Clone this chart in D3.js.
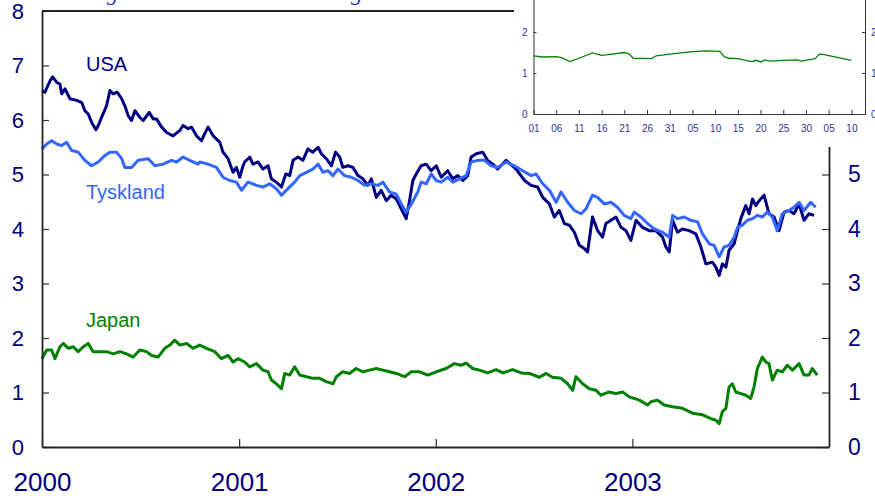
<!DOCTYPE html>
<html><head><meta charset="utf-8">
<script src="https://cdn.jsdelivr.net/npm/d3@7"></script>
<style>html,body{margin:0;padding:0;background:#fff;}svg{display:block;font-family:Arial,"Liberation Sans",sans-serif;}</style>
</head><body>
<svg id="c" width="875" height="496"></svg>
<script>
// ---- data (time = years since 1 Jan 2000) ----
const usaYr=[0.000,0.015,0.041,0.054,0.075,0.091,0.100,0.117,0.142,0.176,0.202,0.218,0.235,0.252,0.274,0.286,0.303,0.328,0.345,0.362,0.382,0.405,0.421,0.438,0.455,0.472,0.497,0.514,0.545,0.565,0.582,0.608,0.633,0.666,0.701,0.717,0.743,0.760,0.785,0.811,0.827,0.844,0.870,0.904,0.920,0.946,0.971,0.988,1.005,1.022,1.030,1.056,1.072,1.098,1.123,1.149,1.166,1.191,1.217,1.239,1.259,1.276,1.301,1.326,1.352,1.377,1.403,1.420,1.445,1.471,1.492,1.513,1.529,1.555,1.580,1.606,1.631,1.656,1.674,1.699,1.724,1.750,1.775,1.801,1.826,1.851,1.868,1.885,1.902,1.927,1.953,1.978,2.004,2.029,2.062,2.088,2.113,2.139,2.164,2.181,2.207,2.240,2.265,2.291,2.316,2.359,2.410,2.452,2.486,2.519,2.545,2.579,2.604,2.629,2.655,2.680,2.706,2.731,2.756,2.773,2.798,2.824,2.849,2.866,2.892,2.917,2.943,2.968,2.993,3.019,3.052,3.086,3.120,3.154,3.171,3.188,3.205,3.230,3.255,3.289,3.323,3.349,3.374,3.408,3.425,3.442,3.458,3.476,3.492,3.518,3.535,3.552,3.577,3.594,3.611,3.628,3.645,3.670,3.695,3.721,3.746,3.772,3.797,3.822,3.848,3.873,3.898,3.924];
const usaVal=[6.54,6.51,6.72,6.79,6.69,6.66,6.48,6.57,6.39,6.36,6.32,6.17,6.11,5.96,5.82,5.90,6.05,6.26,6.54,6.48,6.51,6.39,6.26,6.08,5.99,6.17,6.05,5.99,6.14,6.02,6.02,5.87,5.77,5.71,5.81,5.90,5.84,5.87,5.71,5.62,5.75,5.87,5.71,5.59,5.41,5.29,5.04,5.13,4.95,5.16,5.23,5.32,5.19,5.23,5.10,5.16,4.92,4.86,4.77,5.01,4.98,5.26,5.32,5.26,5.47,5.41,5.50,5.38,5.29,5.16,5.41,5.32,5.13,5.16,5.13,4.98,4.92,4.80,4.92,4.58,4.71,4.52,4.62,4.55,4.37,4.19,4.52,4.89,5.01,5.16,5.19,5.07,5.16,4.95,5.07,4.92,4.98,4.89,4.98,5.32,5.38,5.41,5.26,5.19,5.10,5.26,5.10,4.89,4.80,4.77,4.58,4.46,4.22,4.34,4.10,4.07,3.94,3.70,3.64,3.58,4.22,3.97,3.85,4.10,4.16,4.22,4.03,3.97,3.79,4.16,4.03,3.97,3.97,3.85,3.67,3.58,4.16,3.94,4.00,3.97,3.91,3.67,3.36,3.39,3.30,3.15,3.36,3.30,3.61,3.73,3.97,4.19,4.43,4.28,4.55,4.43,4.52,4.62,4.28,4.22,3.97,4.31,4.34,4.28,4.46,4.16,4.28,4.25];

const deYr=[0.000,0.024,0.049,0.075,0.100,0.125,0.151,0.184,0.218,0.252,0.286,0.320,0.345,0.379,0.405,0.421,0.455,0.489,0.540,0.574,0.616,0.658,0.684,0.717,0.751,0.793,0.802,0.844,0.887,0.920,0.954,0.988,1.014,1.047,1.090,1.123,1.157,1.191,1.217,1.250,1.284,1.310,1.344,1.377,1.403,1.428,1.453,1.479,1.504,1.538,1.572,1.606,1.640,1.674,1.707,1.732,1.766,1.801,1.826,1.851,1.877,1.910,1.927,1.953,1.978,2.004,2.029,2.062,2.088,2.122,2.156,2.181,2.214,2.249,2.283,2.316,2.359,2.401,2.443,2.486,2.511,2.545,2.579,2.613,2.638,2.672,2.706,2.740,2.765,2.798,2.824,2.858,2.892,2.925,2.959,2.993,3.010,3.044,3.078,3.112,3.154,3.188,3.205,3.230,3.264,3.298,3.332,3.357,3.391,3.416,3.442,3.467,3.492,3.518,3.535,3.560,3.585,3.611,3.636,3.661,3.687,3.712,3.737,3.763,3.797,3.822,3.848,3.873,3.907,3.932];
const deVal=[5.47,5.56,5.62,5.56,5.53,5.59,5.44,5.41,5.26,5.16,5.23,5.35,5.41,5.41,5.29,5.13,5.13,5.26,5.29,5.16,5.19,5.26,5.23,5.32,5.26,5.19,5.23,5.19,5.13,4.95,4.89,4.86,4.71,4.86,4.80,4.77,4.83,4.74,4.62,4.74,4.86,4.98,5.04,5.10,5.19,5.04,5.07,4.98,5.10,4.98,4.95,4.89,4.80,4.83,4.80,4.86,4.68,4.64,4.46,4.31,4.46,4.68,4.86,4.83,5.01,4.89,4.86,4.95,4.86,4.92,4.98,5.23,5.26,5.26,5.16,5.13,5.23,5.16,5.07,4.98,5.01,4.83,4.71,4.49,4.68,4.49,4.34,4.28,4.37,4.62,4.58,4.46,4.49,4.40,4.25,4.19,4.31,4.22,4.10,4.00,3.94,3.85,4.25,4.19,4.22,4.16,4.13,3.91,3.73,3.70,3.49,3.67,3.70,3.85,4.03,4.07,4.16,4.19,4.25,4.22,4.31,4.22,3.97,4.28,4.34,4.40,4.49,4.34,4.49,4.40];

const jpYr=[0.000,0.024,0.049,0.066,0.091,0.108,0.134,0.159,0.184,0.210,0.235,0.260,0.294,0.328,0.362,0.396,0.430,0.463,0.497,0.531,0.557,0.590,0.624,0.650,0.675,0.701,0.735,0.768,0.802,0.836,0.878,0.912,0.946,0.971,0.996,1.030,1.056,1.090,1.123,1.149,1.166,1.191,1.217,1.234,1.259,1.284,1.310,1.344,1.377,1.411,1.445,1.479,1.496,1.529,1.563,1.597,1.631,1.665,1.699,1.732,1.766,1.801,1.843,1.877,1.919,1.961,2.004,2.054,2.096,2.130,2.156,2.189,2.223,2.265,2.308,2.342,2.392,2.435,2.477,2.528,2.562,2.595,2.638,2.672,2.697,2.714,2.748,2.782,2.816,2.841,2.883,2.917,2.951,2.985,3.036,3.078,3.095,3.128,3.162,3.205,3.255,3.306,3.357,3.400,3.425,3.442,3.458,3.476,3.492,3.509,3.526,3.552,3.577,3.602,3.619,3.636,3.661,3.679,3.695,3.712,3.737,3.763,3.788,3.814,3.848,3.873,3.898,3.915,3.940];
const jpVal=[1.62,1.78,1.78,1.62,1.84,1.90,1.81,1.84,1.75,1.84,1.90,1.75,1.75,1.75,1.71,1.75,1.71,1.65,1.78,1.75,1.68,1.65,1.81,1.87,1.96,1.87,1.90,1.81,1.87,1.81,1.75,1.62,1.68,1.56,1.62,1.56,1.47,1.53,1.41,1.38,1.23,1.16,1.07,1.35,1.32,1.47,1.32,1.29,1.26,1.26,1.20,1.16,1.29,1.38,1.35,1.44,1.38,1.41,1.44,1.41,1.38,1.35,1.29,1.38,1.38,1.32,1.38,1.44,1.53,1.50,1.54,1.44,1.41,1.36,1.42,1.36,1.42,1.36,1.35,1.28,1.35,1.28,1.26,1.16,1.04,1.29,1.16,1.07,1.04,0.95,1.01,0.98,1.01,0.92,0.86,0.77,0.83,0.86,0.77,0.74,0.71,0.62,0.59,0.52,0.49,0.43,0.65,0.71,1.10,1.16,1.01,0.98,0.95,0.89,1.10,1.44,1.65,1.56,1.53,1.23,1.41,1.38,1.50,1.41,1.53,1.32,1.32,1.44,1.32];

const yearTicks=[2000,2001,2002,2003];
const leftTicks=[0,1,2,3,4,5,6,7,8];
const rightTicks=[0,1,2,3,4,5];
const seriesNames=["USA","Tyskland","Japan"];

// inset: Japan, Oct-Dec 2003
const insetDates=["2003-10-01","2003-10-03","2003-10-06","2003-10-07","2003-10-09","2003-10-11","2003-10-14","2003-10-16","2003-10-17","2003-10-21","2003-10-22","2003-10-23","2003-10-27","2003-10-28","2003-10-31","2003-11-05","2003-11-08","2003-11-11","2003-11-12","2003-11-13","2003-11-15","2003-11-18","2003-11-19","2003-11-20","2003-11-21","2003-11-22","2003-11-25","2003-11-28","2003-11-29","2003-12-02","2003-12-03","2003-12-04","2003-12-10"];
const insetVal=[1.42,1.39,1.40,1.38,1.28,1.36,1.49,1.43,1.44,1.50,1.47,1.36,1.35,1.42,1.46,1.52,1.54,1.53,1.40,1.36,1.35,1.28,1.31,1.27,1.32,1.29,1.31,1.32,1.29,1.35,1.46,1.45,1.31];
const insetTickDates=["2003-10-01","2003-10-06","2003-10-11","2003-10-16","2003-10-21","2003-10-26","2003-10-31","2003-11-05","2003-11-10","2003-11-15","2003-11-20","2003-11-25","2003-11-30","2003-12-05","2003-12-10"];
const insetYTicks=[0,1,2];
const titleText="Tiårige statsrenter. Prosent. Dagstall";

// ---- drawing ----
const svg=d3.select("#c");
const navy="#000080", blue="#3366ff", green="#008000";
const toDate=o=>new Date(Date.UTC(2000,0,1)+o*365.25*864e5);
const x=d3.scaleUtc().domain([new Date(Date.UTC(2000,0,1)),new Date(Date.UTC(2004,0,1))]).range([42,829]);
const y=d3.scaleLinear().domain([0,8]).range([447,11]);

svg.append("text").attr("x",62).attr("y",0).attr("font-family","'Liberation Serif','DejaVu Serif',serif")
  .attr("font-style","italic").attr("font-size",23).attr("fill","#3333bb").text(titleText);

const line=d3.line().x(d=>x(d[0])).y(d=>y(d[1])).curve(d3.curveLinear);
const mk=(t,v)=>t.map((o,i)=>[toDate(o),v[i]]);
[[jpYr,jpVal,green],[usaYr,usaVal,navy],[deYr,deVal,blue]].forEach(([t,v,c])=>{
  svg.append("path").datum(mk(t,v)).attr("d",line).attr("fill","none").attr("stroke",c)
    .attr("stroke-width",3).attr("stroke-linejoin","round");
});

// axes
const axStyle=g=>{g.select(".domain").attr("stroke","#222").attr("stroke-width",1.8);
  g.selectAll(".tick line").attr("stroke","#333").attr("stroke-width",1.2);
  g.selectAll(".tick text").attr("fill",navy).attr("font-family","Arial,'Liberation Sans',sans-serif");};
svg.append("g").attr("transform","translate(42,0)")
  .call(d3.axisLeft(y).tickValues(leftTicks).tickSizeInner(-7).tickSizeOuter(0).tickPadding(18).tickFormat(d3.format("d")))
  .call(axStyle).call(g=>g.selectAll(".tick text").attr("font-size",22));
svg.append("g").attr("transform","translate(829,0)")
  .call(d3.axisRight(y).tickValues(rightTicks).tickSizeInner(-7).tickSizeOuter(0).tickPadding(19).tickFormat(d3.format("d")))
  .call(axStyle).call(g=>g.selectAll(".tick text").attr("font-size",23));
svg.append("g").attr("transform","translate(0,447)")
  .call(d3.axisBottom(x).tickValues(yearTicks.map(v=>new Date(Date.UTC(v,0,1)))).tickSizeInner(-8).tickSizeOuter(0).tickPadding(26).tickFormat(d3.utcFormat("%Y")))
  .call(axStyle).call(g=>g.selectAll(".tick text").attr("font-size",26));
svg.append("line").attr("x1",42).attr("x2",829).attr("y1",11).attr("y2",11).attr("stroke","#222").attr("stroke-width",1.8);

// series labels
const lab=[["USA",86,71,navy],["Tyskland",86,199,blue],["Japan",86,327,green]];
lab.forEach(([t,lx,ly,c],i)=>svg.append("text").attr("x",lx).attr("y",ly).attr("font-size",20).attr("fill",c).text(seriesNames[i]));

// inset
const ins=svg.append("g");
ins.append("rect").attr("x",514).attr("y",0).attr("width",361).attr("height",147).attr("fill","#fff");
const parse=d3.utcParse("%Y-%m-%d");
const ix=d3.scaleUtc().domain([parse("2003-10-01"),parse("2003-12-13")]).range([533.5,865]);
const iy=d3.scaleLinear().domain([0,3]).range([114,-9]);
const iStyle=g=>{g.select(".domain").attr("stroke","#333").attr("stroke-width",1);
  g.selectAll(".tick line").attr("stroke","#333");
  g.selectAll(".tick text").attr("fill","#33339a").attr("font-size",10).attr("font-family","Arial,'Liberation Sans',sans-serif");};
ins.append("g").attr("transform","translate(533.5,0)")
  .call(d3.axisLeft(iy).tickValues(insetYTicks).tickSizeInner(-3).tickSizeOuter(0).tickPadding(6).tickFormat(d3.format("d"))).call(iStyle);
ins.append("g").attr("transform","translate(865,0)")
  .call(d3.axisRight(iy).tickValues(insetYTicks).tickSizeInner(-3).tickSizeOuter(0).tickPadding(6).tickFormat(d3.format("d"))).call(iStyle);
ins.append("g").attr("transform","translate(0,114)")
  .call(d3.axisBottom(ix).tickValues(insetTickDates.map(parse)).tickSizeInner(-4).tickSizeOuter(0).tickPadding(11).tickFormat(d3.utcFormat("%d"))).call(iStyle);
const iline=d3.line().x(d=>ix(d[0])).y(d=>iy(d[1]));
ins.append("path").datum(insetDates.map((d,i)=>[parse(d),insetVal[i]])).attr("d",iline)
  .attr("fill","none").attr("stroke",green).attr("stroke-width",1.3);
</script>
</body></html>
